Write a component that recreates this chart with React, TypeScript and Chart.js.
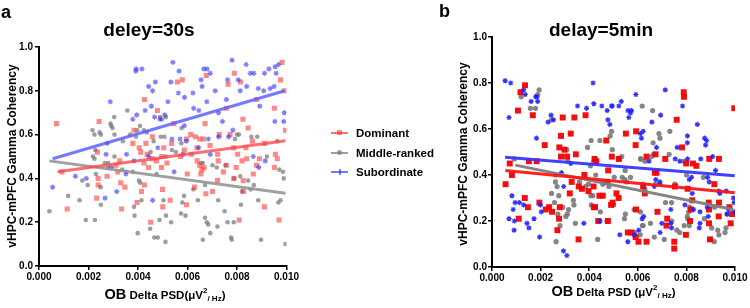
import { useEffect, useRef } from "react";
import { Chart, registerables } from "chart.js";

Chart.register(...registerables);

type Pt = [number, number];

const FONT = '"Liberation Sans", Arial, Helvetica, sans-serif';

// Axis ticks shared by both panels
const xTickValues = [0, 0.002, 0.004, 0.006, 0.008, 0.01];
const yTickValues = [0, 0.2, 0.4, 0.6, 0.8, 1.0];

const seriesNames = ["Dominant", "Middle-ranked", "Subordinate"];

// ---------- delay = 30 s ----------
const dominant30s: Pt[] = [
  [0.00071, 0.65], [0.00093, 0.43], [0.00114, 0.26], [0.00243, 0.66], [0.00236, 0.52], [0.00233, 0.31],
  [0.00239, 0.40], [0.00239, 0.37], [0.00275, 0.41], [0.00311, 0.46], [0.00318, 0.43], [0.00326, 0.48],
  [0.0033, 0.38], [0.00334, 0.26], [0.00347, 0.36], [0.00379, 0.56], [0.00384, 0.62], [0.00405, 0.54],
  [0.00411, 0.52], [0.00424, 0.47], [0.00426, 0.76], [0.00426, 0.37], [0.00432, 0.56], [0.00437, 0.51],
  [0.00443, 0.45], [0.00451, 0.20], [0.00458, 0.49], [0.00458, 0.59], [0.00475, 0.48], [0.00479, 0.71],
  [0.00396, 0.29], [0.00414, 0.34], [0.00495, 0.45], [0.00496, 0.50], [0.00499, 0.35],
  [0.00559, 0.84], [0.00579, 0.85], [0.00676, 0.87], [0.00789, 0.88], [0.00814, 0.84], [0.00764, 0.83],
  [0.00982, 0.93], [0.00976, 0.85], [0.00991, 0.80], [0.00879, 0.76], [0.00757, 0.72], [0.00951, 0.72],
  [0.00671, 0.65], [0.00824, 0.67], [0.00845, 0.63], [0.00996, 0.62], [0.00545, 0.65], [0.00728, 0.60],
  [0.00772, 0.60], [0.00613, 0.60], [0.00632, 0.59], [0.00664, 0.58], [0.0065, 0.58], [0.00596, 0.58],
  [0.00504, 0.54], [0.00536, 0.56], [0.00587, 0.53], [0.00638, 0.54], [0.00691, 0.55], [0.00787, 0.54],
  [0.00836, 0.54], [0.00862, 0.57], [0.00912, 0.56], [0.00803, 0.51], [0.00839, 0.49], [0.0082, 0.48],
  [0.00722, 0.51], [0.00616, 0.51], [0.00572, 0.50], [0.00955, 0.51], [0.00963, 0.49], [0.00517, 0.47],
  [0.00639, 0.48], [0.00667, 0.45], [0.00649, 0.46], [0.00724, 0.48], [0.00757, 0.46], [0.00797, 0.45],
  [0.00891, 0.49], [0.00879, 0.46], [0.00951, 0.45], [0.00599, 0.42], [0.00654, 0.42], [0.00658, 0.44],
  [0.00745, 0.43], [0.00787, 0.40], [0.00825, 0.39], [0.00866, 0.42], [0.00628, 0.36], [0.00674, 0.33],
  [0.00701, 0.34], [0.00721, 0.39], [0.00826, 0.34], [0.0053, 0.30], [0.00596, 0.28], [0.005, 0.27],
  [0.00809, 0.21], [0.00911, 0.27], [0.0097, 0.21],
];

const middle30s: Pt[] = [
  [0.00042, 0.25], [0.00118, 0.32], [0.00164, 0.30], [0.00175, 0.39], [0.00189, 0.21], [0.00197, 0.37],
  [0.00216, 0.62], [0.00224, 0.60], [0.00226, 0.21], [0.00245, 0.61], [0.0025, 0.60], [0.00218, 0.50],
  [0.00224, 0.49], [0.0023, 0.42], [0.00228, 0.53], [0.00249, 0.36], [0.0025, 0.28], [0.00266, 0.47],
  [0.0028, 0.47], [0.00289, 0.65], [0.00292, 0.64], [0.00297, 0.63], [0.00304, 0.68], [0.00305, 0.60],
  [0.00305, 0.50], [0.00279, 0.45], [0.00336, 0.44], [0.00339, 0.57], [0.00357, 0.71], [0.00353, 0.43],
  [0.00368, 0.60], [0.00379, 0.43], [0.00384, 0.27], [0.00386, 0.23], [0.00399, 0.15], [0.00392, 0.59],
  [0.00397, 0.62], [0.00404, 0.39], [0.00409, 0.38], [0.00414, 0.30], [0.00408, 0.64], [0.00424, 0.62],
  [0.00436, 0.61], [0.00449, 0.17], [0.00451, 0.52], [0.00463, 0.57], [0.00466, 0.13], [0.0048, 0.13],
  [0.00487, 0.21], [0.00475, 0.42], [0.00489, 0.68],
  [0.00497, 0.67], [0.00513, 0.68], [0.00576, 0.63], [0.008, 0.60], [0.00808, 0.60], [0.00792, 0.58],
  [0.00858, 0.59], [0.00882, 0.59], [0.00507, 0.59], [0.00575, 0.56], [0.00492, 0.59], [0.00537, 0.53],
  [0.00513, 0.50], [0.00553, 0.52], [0.00655, 0.47], [0.00701, 0.46], [0.00718, 0.45], [0.00662, 0.47],
  [0.00754, 0.46], [0.00789, 0.40], [0.00813, 0.41], [0.00845, 0.39], [0.00921, 0.50], [0.00963, 0.57],
  [0.00971, 0.44], [0.00986, 0.43], [0.00989, 0.40], [0.00671, 0.37], [0.00624, 0.35], [0.00724, 0.30],
  [0.0082, 0.34], [0.00855, 0.35], [0.00868, 0.37], [0.00586, 0.32], [0.00503, 0.30], [0.00579, 0.29],
  [0.00513, 0.23], [0.00592, 0.23], [0.00574, 0.24], [0.00534, 0.20], [0.00642, 0.30], [0.00671, 0.22],
  [0.00678, 0.20], [0.00684, 0.19], [0.00721, 0.18], [0.0075, 0.25], [0.00762, 0.20], [0.00787, 0.20],
  [0.00816, 0.28], [0.00886, 0.30], [0.00967, 0.29], [0.00976, 0.30], [0.00996, 0.10], [0.00897, 0.12],
  [0.00776, 0.13], [0.00779, 0.12], [0.00692, 0.15], [0.00662, 0.12], [0.00511, 0.11],
];

const subordinate30s: Pt[] = [
  [0.00055, 0.36], [0.00147, 0.41], [0.00191, 0.40], [0.00288, 0.75], [0.00276, 0.56], [0.00271, 0.51],
  [0.00292, 0.45], [0.00267, 0.31], [0.00314, 0.34], [0.00351, 0.42], [0.00354, 0.51], [0.00379, 0.67],
  [0.00395, 0.69], [0.00393, 0.90], [0.00391, 0.89], [0.00416, 0.90], [0.00429, 0.71], [0.00443, 0.82],
  [0.00454, 0.73], [0.00459, 0.80], [0.0047, 0.84], [0.00467, 0.68], [0.00459, 0.30], [0.00384, 0.48],
  [0.00443, 0.50], [0.0048, 0.54], [0.00489, 0.67],
  [0.00541, 0.93], [0.00566, 0.89], [0.00533, 0.84], [0.00563, 0.79], [0.00588, 0.77], [0.00521, 0.75],
  [0.00508, 0.69], [0.00537, 0.58], [0.0057, 0.58], [0.00595, 0.57], [0.00587, 0.64], [0.00622, 0.79],
  [0.00625, 0.72], [0.00646, 0.71], [0.00655, 0.85], [0.00659, 0.82], [0.00666, 0.90], [0.00679, 0.90],
  [0.00692, 0.88], [0.00678, 0.75], [0.00684, 0.58], [0.00692, 0.51], [0.00712, 0.80], [0.00725, 0.70],
  [0.00741, 0.66], [0.00757, 0.76], [0.00762, 0.85], [0.00766, 0.59], [0.0078, 0.94], [0.00783, 0.62],
  [0.00805, 0.85], [0.00813, 0.80], [0.00837, 0.92], [0.00839, 0.82], [0.00854, 0.88], [0.00868, 0.88],
  [0.00886, 0.81], [0.00892, 0.73], [0.00908, 0.80], [0.00911, 0.88], [0.00929, 0.90], [0.00934, 0.81],
  [0.00954, 0.91], [0.00968, 0.92], [0.00958, 0.88], [0.0095, 0.82], [0.00991, 0.70], [0.00989, 0.66],
  [0.00953, 0.66], [0.00866, 0.50], [0.00888, 0.45], [0.00914, 0.48], [0.00645, 0.54], [0.00726, 0.59],
  [0.00582, 0.51], [0.00546, 0.43],
];

// Linear fits: [start, end]
const fitDominant30s: Pt[] = [[0.00075, 0.43], [0.00996, 0.572]];
const fitMiddle30s: Pt[] = [[0.00042, 0.48], [0.00996, 0.332]];
const fitSubordinate30s: Pt[] = [[0.00055, 0.49], [0.00993, 0.80]];

// ---------- delay = 5 min ----------
const dominant5min: Pt[] = [
  [0.00056, 0.36], [0.00082, 0.40], [0.00073, 0.45], [0.00107, 0.68], [0.00117, 0.76], [0.00136, 0.79],
  [0.00168, 0.66], [0.00152, 0.46], [0.00135, 0.30], [0.00148, 0.26], [0.0011, 0.21], [0.00184, 0.46],
  [0.00195, 0.28], [0.00217, 0.53], [0.00235, 0.26], [0.00221, 0.25], [0.00247, 0.24], [0.00279, 0.26],
  [0.00269, 0.16], [0.00276, 0.21], [0.00277, 0.52], [0.00284, 0.57], [0.00291, 0.65], [0.00298, 0.51],
  [0.00284, 0.48], [0.00309, 0.48], [0.00324, 0.58], [0.00339, 0.65], [0.00345, 0.49], [0.00356, 0.12],
  [0.0032, 0.32], [0.00328, 0.37], [0.00357, 0.35], [0.00385, 0.66], [0.0037, 0.34], [0.0038, 0.40],
  [0.00397, 0.33], [0.00422, 0.47], [0.00429, 0.46], [0.00419, 0.26], [0.00418, 0.35], [0.00424, 0.26],
  [0.00437, 0.20], [0.00442, 0.31], [0.00456, 0.31], [0.0047, 0.55], [0.00473, 0.37], [0.00478, 0.42],
  [0.00493, 0.48], [0.0049, 0.27], [0.00477, 0.20],
  [0.00789, 0.76], [0.0079, 0.74], [0.0076, 0.64], [0.00997, 0.69], [0.00551, 0.58], [0.00593, 0.59],
  [0.00591, 0.53], [0.00782, 0.52], [0.00713, 0.47], [0.00636, 0.48], [0.00673, 0.49], [0.00799, 0.45],
  [0.00827, 0.45], [0.00841, 0.44], [0.00894, 0.47], [0.00934, 0.47], [0.0067, 0.41], [0.00677, 0.41],
  [0.00753, 0.35], [0.00805, 0.34], [0.00915, 0.36], [0.00622, 0.35], [0.00629, 0.32], [0.00522, 0.47],
  [0.00512, 0.32], [0.00496, 0.28], [0.00521, 0.30], [0.00934, 0.28], [0.00977, 0.26], [0.00988, 0.23],
  [0.00824, 0.29], [0.00892, 0.28], [0.00893, 0.25], [0.00819, 0.25], [0.00593, 0.25], [0.00681, 0.24],
  [0.00721, 0.21], [0.00815, 0.20], [0.00893, 0.19], [0.00933, 0.22], [0.00718, 0.18], [0.00798, 0.14],
  [0.00559, 0.15], [0.00591, 0.13], [0.00574, 0.15], [0.00603, 0.11], [0.00636, 0.11], [0.0075, 0.11],
  [0.0075, 0.08], [0.00897, 0.12], [0.00982, 0.19],
];

const middle5min: Pt[] = [
  [0.00092, 0.47], [0.0012, 0.74], [0.00158, 0.69], [0.00179, 0.69], [0.00194, 0.77], [0.00188, 0.75],
  [0.00245, 0.64], [0.00308, 0.51], [0.00312, 0.46], [0.00261, 0.40], [0.00261, 0.37], [0.00268, 0.35],
  [0.00275, 0.31], [0.00245, 0.32], [0.00271, 0.23], [0.00257, 0.28], [0.00291, 0.26], [0.00304, 0.22],
  [0.00315, 0.25], [0.0031, 0.23], [0.0028, 0.18], [0.00343, 0.19], [0.00264, 0.11], [0.00335, 0.29],
  [0.00337, 0.27], [0.0036, 0.37], [0.00385, 0.35], [0.00397, 0.36], [0.00393, 0.52], [0.00408, 0.55],
  [0.00419, 0.46], [0.00405, 0.44], [0.00407, 0.31], [0.00415, 0.31], [0.00409, 0.27], [0.00427, 0.40],
  [0.00435, 0.12], [0.00444, 0.55], [0.00446, 0.24], [0.00456, 0.36], [0.0046, 0.37], [0.00473, 0.20],
  [0.00481, 0.35], [0.00486, 0.57], [0.00477, 0.37], [0.00492, 0.59], [0.00495, 0.51],
  [0.00618, 0.70], [0.00661, 0.68], [0.00732, 0.59], [0.00687, 0.58], [0.00691, 0.56], [0.00663, 0.54],
  [0.00729, 0.49], [0.00665, 0.49], [0.00657, 0.48], [0.00613, 0.47], [0.00629, 0.46], [0.00611, 0.47],
  [0.00534, 0.48], [0.00523, 0.47], [0.0057, 0.39], [0.00548, 0.42], [0.00536, 0.39], [0.00547, 0.38],
  [0.00503, 0.39], [0.00554, 0.37], [0.00622, 0.36], [0.00629, 0.34], [0.00691, 0.36], [0.00673, 0.36],
  [0.00753, 0.36], [0.00739, 0.28], [0.00714, 0.28], [0.0074, 0.20], [0.00813, 0.26], [0.00806, 0.21],
  [0.00809, 0.24], [0.00804, 0.22], [0.00773, 0.15], [0.00761, 0.16], [0.00791, 0.18], [0.00812, 0.18],
  [0.00501, 0.27], [0.00549, 0.23], [0.00545, 0.21], [0.00585, 0.25], [0.00611, 0.24], [0.00619, 0.18],
  [0.00622, 0.18], [0.00652, 0.19], [0.0061, 0.14], [0.00588, 0.15], [0.00668, 0.13], [0.00709, 0.12],
  [0.00874, 0.21], [0.00904, 0.17], [0.00929, 0.16], [0.00959, 0.15], [0.00934, 0.14], [0.00963, 0.17],
  [0.00915, 0.11], [0.00901, 0.12], [0.00968, 0.23], [0.00916, 0.26], [0.0087, 0.39], [0.00801, 0.40],
  [0.0079, 0.46],
];

const subordinate5min: Pt[] = [
  [0.00054, 0.81], [0.00077, 0.80], [0.0007, 0.65], [0.0013, 0.77], [0.00137, 0.75], [0.00161, 0.72],
  [0.0018, 0.74], [0.00188, 0.72], [0.00185, 0.74], [0.00183, 0.56], [0.00243, 0.66], [0.00253, 0.64],
  [0.00231, 0.63], [0.00352, 0.70], [0.00389, 0.69], [0.00416, 0.80], [0.00419, 0.71], [0.00452, 0.70],
  [0.00474, 0.68], [0.00477, 0.64], [0.00485, 0.62], [0.00492, 0.70], [0.00286, 0.41], [0.00295, 0.35],
  [0.00082, 0.31], [0.00095, 0.28], [0.00113, 0.28], [0.0013, 0.27], [0.00087, 0.25], [0.0007, 0.21],
  [0.00092, 0.20], [0.00091, 0.16], [0.00144, 0.19], [0.00152, 0.17], [0.00173, 0.21], [0.00199, 0.27],
  [0.00203, 0.24], [0.00196, 0.13], [0.00294, 0.07], [0.00308, 0.05], [0.00378, 0.19], [0.00324, 0.45],
  [0.00445, 0.20],
  [0.00592, 0.75], [0.00713, 0.77], [0.00532, 0.72], [0.0056, 0.68], [0.0057, 0.67], [0.00574, 0.68],
  [0.00563, 0.65], [0.00522, 0.70], [0.00495, 0.70], [0.00694, 0.66], [0.00658, 0.63], [0.00784, 0.70],
  [0.00845, 0.62], [0.00611, 0.58], [0.00615, 0.56], [0.00622, 0.59], [0.00804, 0.57], [0.00804, 0.54],
  [0.00875, 0.56], [0.00883, 0.55], [0.00879, 0.53], [0.00762, 0.52], [0.00677, 0.52], [0.00754, 0.47],
  [0.00773, 0.46], [0.00805, 0.47], [0.00859, 0.47], [0.00908, 0.48], [0.0092, 0.42], [0.00646, 0.46],
  [0.00887, 0.39], [0.00894, 0.37], [0.00933, 0.33], [0.00938, 0.32], [0.00964, 0.33], [0.00993, 0.30],
  [0.00996, 0.28], [0.00674, 0.38], [0.00691, 0.37], [0.00668, 0.35], [0.00812, 0.38], [0.00821, 0.39],
  [0.0083, 0.25], [0.00856, 0.24], [0.00886, 0.26], [0.0089, 0.22], [0.00824, 0.32], [0.00736, 0.25],
  [0.00794, 0.27], [0.00624, 0.22], [0.00618, 0.21], [0.00699, 0.19], [0.00736, 0.19], [0.00739, 0.17],
  [0.00856, 0.19], [0.00853, 0.17], [0.00973, 0.25], [0.00967, 0.23], [0.00998, 0.24], [0.00692, 0.15],
  [0.00604, 0.16], [0.00585, 0.14], [0.00559, 0.11], [0.00526, 0.14],
];

const fitDominant5min: Pt[] = [[0.00055, 0.42], [0.00999, 0.323]];
const fitMiddle5min: Pt[] = [[0.00096, 0.443], [0.00993, 0.25]];
const fitSubordinate5min: Pt[] = [[0.00054, 0.477], [0.00999, 0.397]];

interface SeriesLook {
  fill: string;
  line: string;
  pointStyle: "rect" | "circle" | "star";
  radius: number;
  border: number;
}

const look30s: SeriesLook[] = [
  { fill: "rgba(255,40,40,0.55)", line: "rgba(255,70,70,0.78)", pointStyle: "rect", radius: 3.6, border: 0 },
  { fill: "rgba(120,120,120,0.72)", line: "rgba(150,150,150,0.9)", pointStyle: "circle", radius: 2.3, border: 0 },
  { fill: "rgba(40,40,255,0.6)", line: "rgba(95,95,255,0.85)", pointStyle: "star", radius: 2.6, border: 1.2 },
];

const look5min: SeriesLook[] = [
  { fill: "rgba(245,0,0,0.95)", line: "rgba(255,20,20,0.95)", pointStyle: "rect", radius: 4.2, border: 0 },
  { fill: "rgba(120,120,120,0.9)", line: "rgba(125,125,125,0.95)", pointStyle: "circle", radius: 2.6, border: 0 },
  { fill: "rgba(30,30,255,0.9)", line: "rgba(55,55,255,0.95)", pointStyle: "star", radius: 2.6, border: 1.2 },
];

interface PanelFrame {
  left: number;
  width: number;
  yAxisWidth: number;
  padTop: number;
  padRight: number;
  xAxisHeight: number;
  yTickPad: number;
}

const frame30s: PanelFrame = { left: 0, width: 300, yAxisWidth: 39, padTop: 47, padRight: 9, xAxisHeight: 42, yTickPad: 2 };
const frame5min: PanelFrame = { left: 420, width: 330, yAxisWidth: 72, padTop: 37, padRight: 15, xAxisHeight: 41, yTickPad: 1 };

const HEIGHT = 308;

function toXY(pts: Pt[]) {
  return pts.map(([x, y]) => ({ x, y }));
}

function buildConfig(frame: PanelFrame, points: Pt[][], fits: Pt[][], looks: SeriesLook[]): any {
  const tickFont = { family: FONT, size: 10, weight: "bold" as const };
  const lineSets = fits.map((f, i) => ({
    type: "line",
    label: seriesNames[i] + " fit",
    data: toXY(f),
    borderColor: looks[i].line,
    borderWidth: 3,
    pointRadius: 0,
    fill: false,
    tension: 0,
    order: 0,
  }));
  // drawing order: subordinate above dominant above middle-ranked
  const drawOrder = [2, 3, 1];
  const pointSets = points.map((p, i) => ({
    type: "scatter",
    label: seriesNames[i],
    data: toXY(p),
    backgroundColor: looks[i].fill,
    borderColor: looks[i].pointStyle === "star" ? looks[i].fill : "rgba(0,0,0,0)",
    borderWidth: looks[i].border,
    pointStyle: looks[i].pointStyle,
    pointRadius: looks[i].radius,
    order: drawOrder[i],
  }));
  return {
    type: "scatter",
    data: { datasets: [...lineSets, ...pointSets] },
    options: {
      animation: false,
      responsive: false,
      devicePixelRatio: 1,
      layout: { padding: { left: 0, top: frame.padTop, right: frame.padRight, bottom: 0 } },
      plugins: { legend: { display: false }, tooltip: { enabled: false }, title: { display: false } },
      events: [],
      scales: {
        x: {
          type: "linear",
          min: 0,
          max: 0.01,
          afterBuildTicks: (axis: any) => {
            axis.ticks = xTickValues.map((v) => ({ value: v }));
          },
          afterFit: (axis: any) => {
            axis.height = frame.xAxisHeight;
          },
          ticks: {
            callback: (v: any) => Number(v).toFixed(3),
            font: tickFont,
            color: "#000",
            padding: 1,
            maxRotation: 0,
            autoSkip: false,
          },
          grid: { drawOnChartArea: false, drawTicks: true, tickLength: 4, color: "#000", lineWidth: 1.5 },
          border: { display: true, color: "#000", width: 2 },
        },
        y: {
          type: "linear",
          min: 0,
          max: 1,
          afterBuildTicks: (axis: any) => {
            axis.ticks = yTickValues.map((v) => ({ value: v }));
          },
          afterFit: (axis: any) => {
            axis.width = frame.yAxisWidth;
          },
          ticks: {
            callback: (v: any) => Number(v).toFixed(1),
            font: tickFont,
            color: "#000",
            padding: frame.yTickPad,
            autoSkip: false,
          },
          grid: { drawOnChartArea: false, drawTicks: true, tickLength: 4, color: "#000", lineWidth: 1.5 },
          border: { display: true, color: "#000", width: 2 },
        },
      },
    },
  };
}

function Panel({ frame, points, fits, looks }: { frame: PanelFrame; points: Pt[][]; fits: Pt[][]; looks: SeriesLook[] }) {
  const ref = useRef<HTMLCanvasElement | null>(null);
  useEffect(() => {
    if (!ref.current) return;
    const chart = new Chart(ref.current, buildConfig(frame, points, fits, looks));
    return () => chart.destroy();
  }, []);
  return (
    <canvas
      ref={ref}
      width={frame.width}
      height={HEIGHT}
      style={{ position: "absolute", left: frame.left, top: 0, width: frame.width, height: HEIGHT }}
    />
  );
}

function YTitle({ cx, cy }: { cx: number; cy: number }) {
  const w = 240;
  const h = 14;
  return (
    <div
      style={{
        position: "absolute",
        left: cx - w / 2,
        top: cy - h / 2,
        width: w,
        height: h,
        lineHeight: `${h}px`,
        textAlign: "center",
        fontSize: 12,
        fontWeight: "bold",
        transform: "rotate(-90deg)",
        transformOrigin: "50% 50%",
        whiteSpace: "nowrap",
      }}
    >
      vHPC-mPFC Gamma Coherency
    </div>
  );
}

function XTitle({ cx, baseline, spaced }: { cx: number; baseline: number; spaced: boolean }) {
  const lh = 16;
  return (
    <div
      style={{
        position: "absolute",
        left: cx - 150,
        width: 300,
        top: baseline - lh * 0.8465,
        lineHeight: `${lh}px`,
        textAlign: "center",
        fontSize: 14.5,
        fontWeight: "bold",
        whiteSpace: "nowrap",
      }}
    >
      <span>OB</span>
      <span style={{ fontSize: 11.5 }}>{spaced ? " Delta PSD (μV" : " Delta PSD(μV"}</span>
      <span style={{ fontSize: 8, position: "relative", top: -6 }}>2</span>
      <span style={{ fontSize: 8, position: "relative", top: 2 }}>/ Hz</span>
      <span style={{ fontSize: 11.5 }}>)</span>
    </div>
  );
}

function Heading({ cx, baseline, text }: { cx: number; baseline: number; text: string }) {
  const size = 19;
  return (
    <div
      style={{
        position: "absolute",
        left: cx - 100,
        width: 200,
        top: baseline - size * 0.8465,
        lineHeight: `${size}px`,
        fontSize: size,
        fontWeight: "bold",
        textAlign: "center",
        whiteSpace: "nowrap",
      }}
    >
      {text}
    </div>
  );
}

function PanelLetter({ left, baseline, text }: { left: number; baseline: number; text: string }) {
  const size = 18;
  return (
    <div
      style={{
        position: "absolute",
        left,
        top: baseline - size * 0.8465,
        lineHeight: `${size}px`,
        fontSize: size,
        fontWeight: "bold",
      }}
    >
      {text}
    </div>
  );
}

function LegendMarker({ index }: { index: number }) {
  const look = look30s[index];
  const base: any = { position: "absolute", background: look.line };
  return (
    <div style={{ position: "absolute", left: 0, top: 0, width: 17, height: 12 }}>
      <div style={{ ...base, left: 0, top: 5, width: 17, height: 2 }} />
      {index === 0 && <div style={{ ...base, left: 6, top: 3.5, width: 5, height: 5, background: look.fill }} />}
      {index === 1 && (
        <div style={{ ...base, left: 6, top: 3.5, width: 5, height: 5, borderRadius: "50%", background: look.fill }} />
      )}
      {index === 2 && <div style={{ ...base, left: 7.5, top: 3, width: 2, height: 6, background: look.fill }} />}
    </div>
  );
}

function Legend() {
  const rows = [132.5, 152.5, 172];
  return (
    <>
      {seriesNames.map((name, i) => (
        <div key={name} style={{ position: "absolute", left: 331, top: rows[i] - 6, height: 12, width: 110 }}>
          <LegendMarker index={i} />
          <div
            style={{
              position: "absolute",
              left: 25,
              top: 0,
              lineHeight: "12px",
              fontSize: 11.5,
              fontWeight: "bold",
              whiteSpace: "nowrap",
            }}
          >
            {name}
          </div>
        </div>
      ))}
    </>
  );
}

export default function App() {
  return (
    <div
      style={{
        position: "fixed",
        left: 0,
        top: 0,
        width: 750,
        height: HEIGHT,
        background: "#fff",
        fontFamily: FONT,
        color: "#000",
        overflow: "hidden",
      }}
    >
      <Panel
        frame={frame30s}
        points={[dominant30s, middle30s, subordinate30s]}
        fits={[fitDominant30s, fitMiddle30s, fitSubordinate30s]}
        looks={look30s}
      />
      <Panel
        frame={frame5min}
        points={[dominant5min, middle5min, subordinate5min]}
        fits={[fitDominant5min, fitMiddle5min, fitSubordinate5min]}
        looks={look5min}
      />
      <PanelLetter left={1} baseline={18.5} text="a" />
      <PanelLetter left={439} baseline={17} text="b" />
      <Heading cx={149} baseline={36.5} text="deley=30s" />
      <Heading cx={601} baseline={36.5} text="delay=5min" />
      <YTitle cx={12} cy={156} />
      <YTitle cx={463} cy={154} />
      <XTitle cx={165} baseline={300} spaced={false} />
      <XTitle cx={613.5} baseline={297} spaced={true} />
      <Legend />
    </div>
  );
}
